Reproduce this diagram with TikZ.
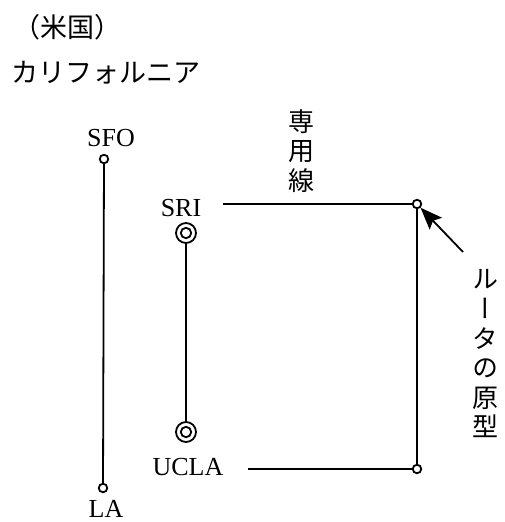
\documentclass[tikz,border=0pt]{standalone}
\usepackage{fontspec}
\setmainfont{Liberation Serif}
\newfontfamily\cjk{Noto Sans CJK JP}
\newfontfamily\cjkv[RawFeature=+vert]{Noto Sans CJK JP}
\usetikzlibrary{arrows.meta}
\begin{document}
\begin{tikzpicture}[x=1pt,y=-1pt,
  line width=1.8pt,
  lbl/.style={font=\fontsize{26}{30}\selectfont, inner sep=0pt},
  jlbl/.style={font=\fontsize{27}{30}\selectfont\cjk, inner sep=0pt},
  vlbl/.style={font=\fontsize{26}{29.6}\selectfont\cjkv, inner sep=0pt, align=center},
  hub/.style={circle, draw, fill=white, minimum size=8.5pt, inner sep=0pt, line width=1.8pt},
  host/.style={circle, draw, minimum size=20pt, inner sep=0pt, line width=1.8pt,
    path picture={\draw[line width=1.8pt] (path picture bounding box.center) circle (5.2pt);}},
  pointer/.style={-{Stealth[length=22pt,width=17pt,inset=4pt]}, line width=1.8pt}
]
\useasboundingbox (0,0) rectangle (504,522);
% titles
\node[jlbl, anchor=west] (country) at (13,27) {（米国）};
\node[jlbl, anchor=west] (state) at (11,73) {カリフォルニア};
% SFO - LA
\node[hub] (sfo) at (104,159) {};
\node[hub] (la) at (103,488) {};
\node[lbl, anchor=base] (sfoT) at (111,146) {SFO};
\node[lbl, anchor=base] (laT) at (106,517) {LA};
\draw (sfo) -- (la);
% SRI - UCLA
\node[host] (sri) at (186,233) {};
\node[host] (ucla) at (186,432) {};
\node[lbl, anchor=base] (sriT) at (181,216) {SRI};
\node[lbl, anchor=base] (uclaT) at (188,475) {UCLA};
\draw (sri) -- (ucla);
% leased line
\node[hub] (r1) at (417,204) {};
\node[hub] (r2) at (417,469) {};
\coordinate (sriL) at (223,204);
\coordinate (uclaL) at (248,469);
\draw (sriL) -- (r1);
\draw (r1) -- (r2);
\draw (uclaL) -- (r2);
\node[vlbl] (leased) at (301,151) {専\\用\\線};
% router prototype
\node[vlbl] (proto) at (485,354) {ル\\ー\\タ\\の\\原\\型};
\coordinate (arrT) at (463,252);
\draw[pointer] (arrT) -- (r1);
\end{tikzpicture}
\end{document}
